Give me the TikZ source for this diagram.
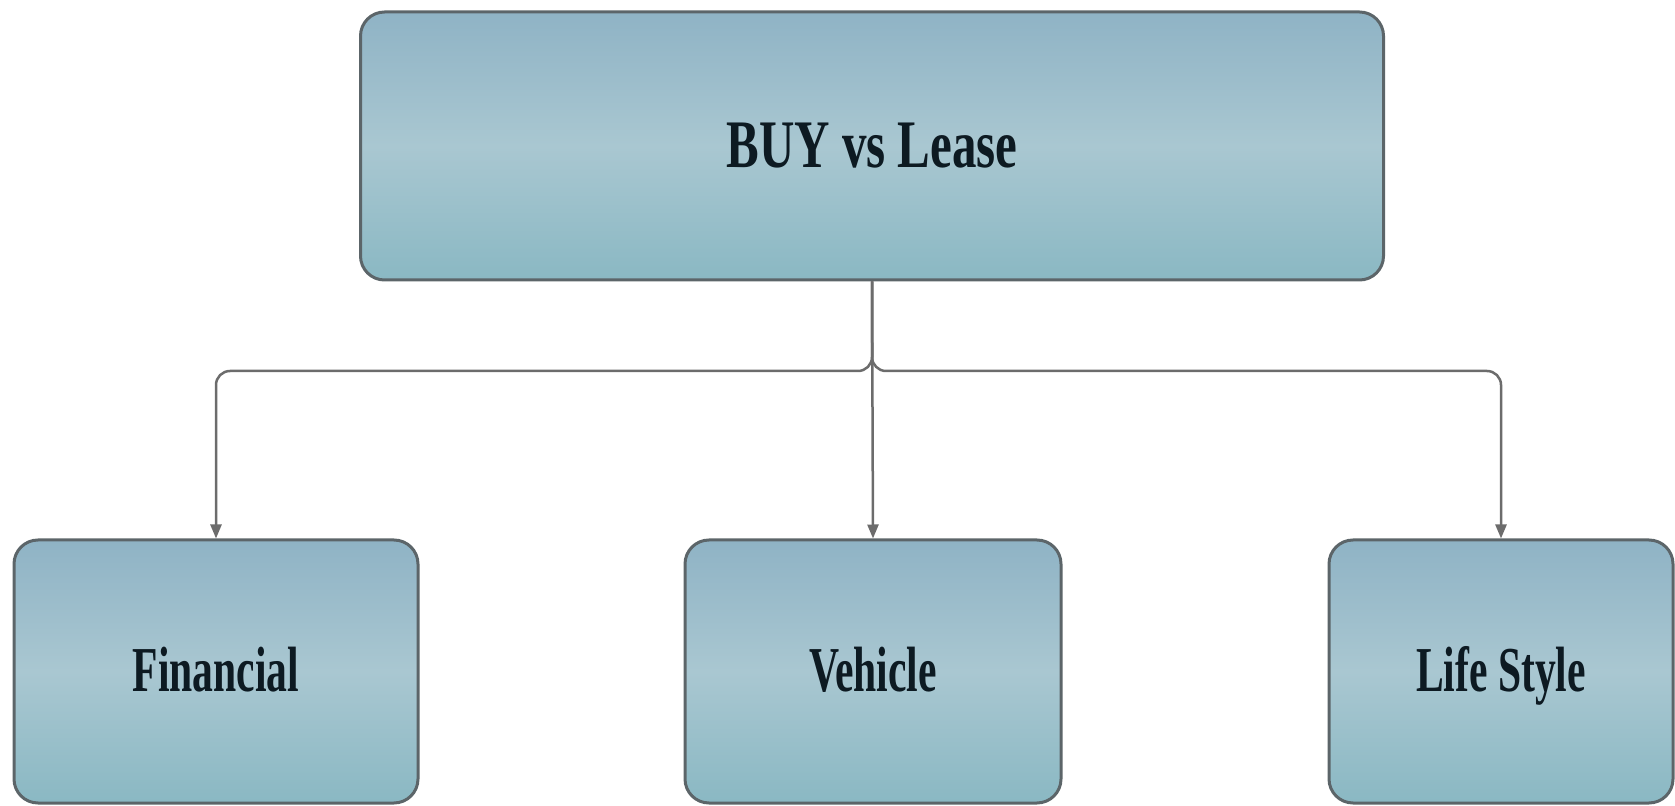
\documentclass[tikz,border=0pt]{standalone}
\usepackage{fontspec}
\setmainfont{Liberation Serif}
\usetikzlibrary{arrows.meta}
\definecolor{boxtop}{HTML}{8FB3C5}
\definecolor{boxmid}{HTML}{A9C7D1}
\definecolor{boxbot}{HTML}{8AB8C3}
\definecolor{boxline}{HTML}{5C6569}
\definecolor{linkline}{HTML}{6C6C6C}
\definecolor{labeltext}{HTML}{0D1A22}
\def\pxl{0.5pt}
\tikzset{
  card/.style={draw=boxline, line width=3*\pxl, rounded corners=24*\pxl,
    top color=boxtop, bottom color=boxbot, middle color=boxmid,
    text=labeltext, inner sep=0pt},
  toplabel/.style={font=\fontsize{34pt}{38pt}\selectfont\bfseries},
  sublabel/.style={font=\fontsize{32pt}{36pt}\selectfont\bfseries,
    text height=21pt, text depth=1pt},
  link/.style={draw=linkline, line width=2.5*\pxl, rounded corners=14*\pxl,
    -{Triangle[length=14*\pxl, width=11*\pxl]}}
}
\begin{document}
\begin{tikzpicture}[x=0.5pt, y=-0.5pt]
  \useasboundingbox (0,0) rectangle (1675,806);
  % root of the tree
  \node[card, toplabel, minimum width=1023*\pxl, minimum height=268*\pxl]
    (root) at (872,146) {\scalebox{0.72}[1]{BUY vs Lease}};
  % three child boxes
  \node[card, sublabel, minimum width=404*\pxl, minimum height=263*\pxl]
    (fin) at (216,671.5) {\scalebox{0.65}[1]{Financial}};
  \node[card, sublabel, minimum width=376*\pxl, minimum height=263*\pxl]
    (veh) at (873,671.5) {\scalebox{0.65}[1]{Vehicle}};
  \node[card, sublabel, minimum width=344*\pxl, minimum height=263*\pxl]
    (life) at (1501,671.5) {\scalebox{0.65}[1]{Life Style}};
  % branching connectors
  \coordinate (split) at (872,371);
  \draw[link] (root.south) -- (split) -| (fin.north);
  \draw[link] (root.south) -- (split) -| (life.north);
  \draw[link] (root.south) -- (veh.north);
\end{tikzpicture}
\end{document}
